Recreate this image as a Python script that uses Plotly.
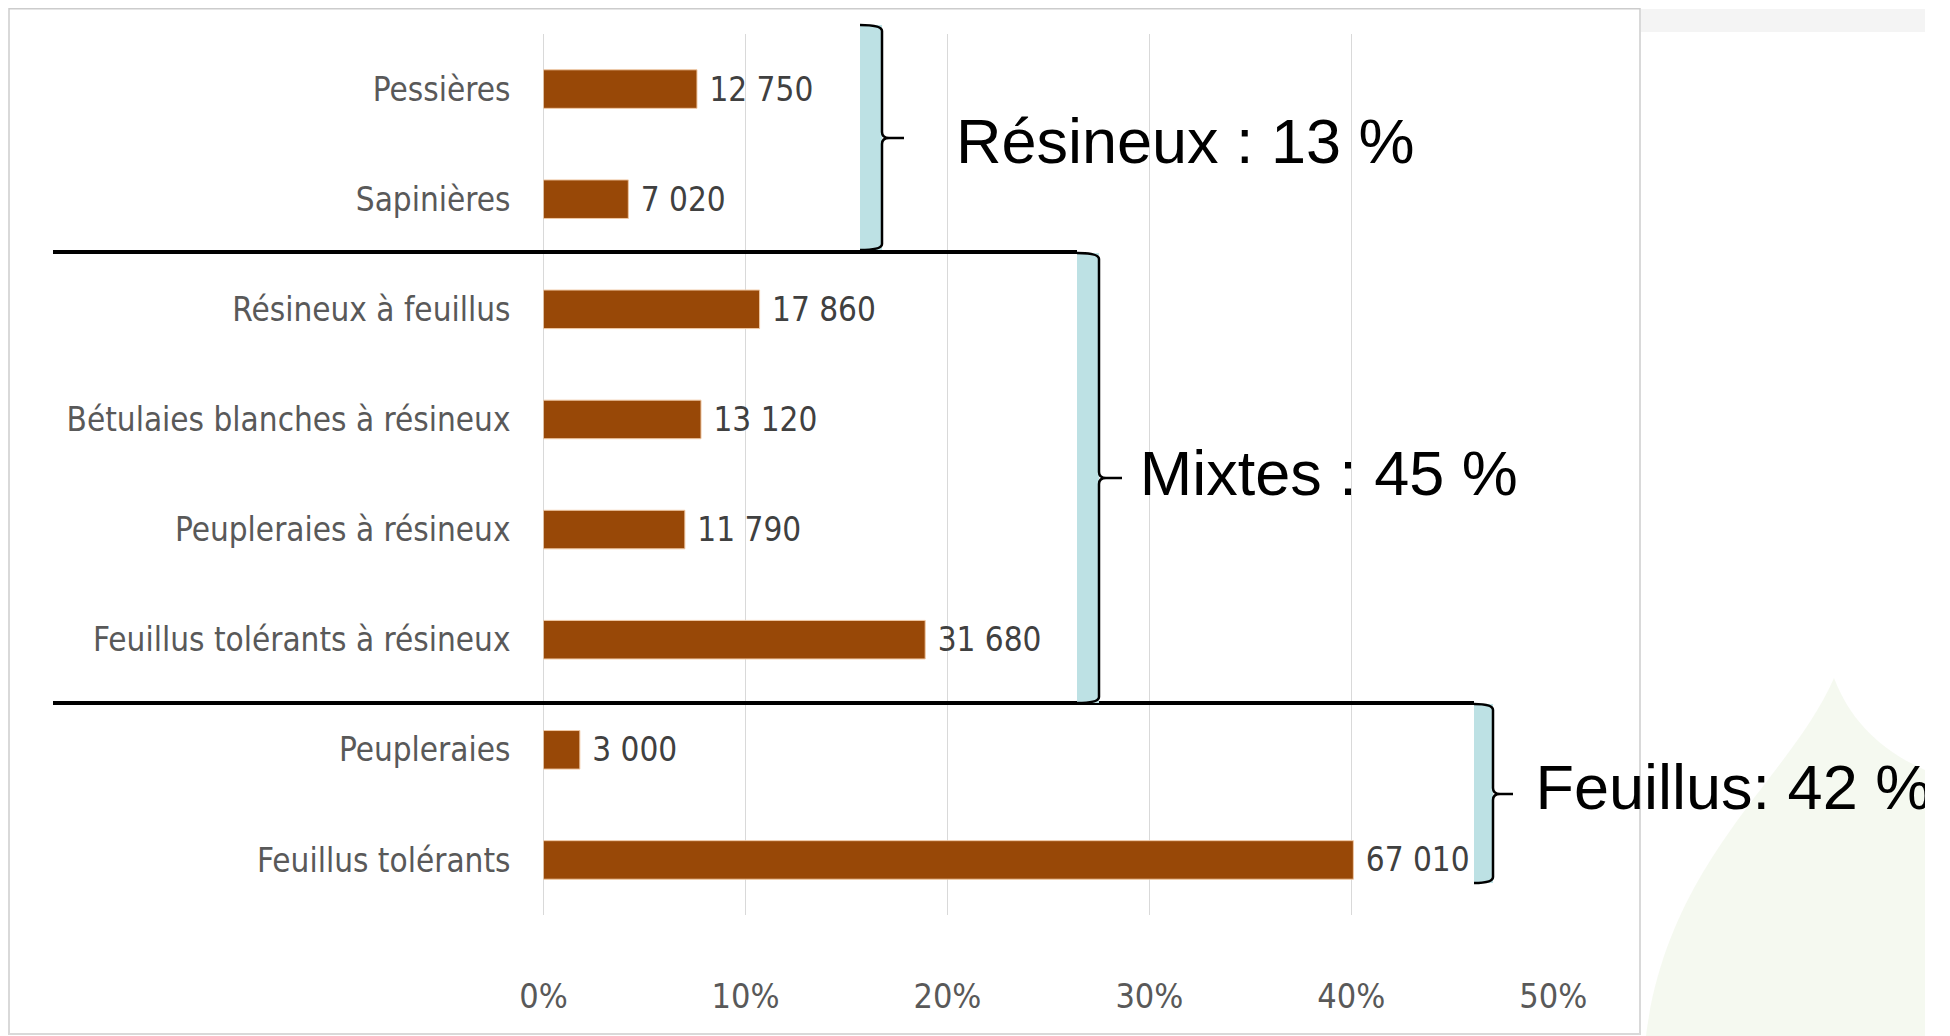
import plotly.graph_objects as go

W, H = 1950, 1036
PAGE_OFFSET = 8  # the page body margin shifts the figure by this many pixels

categories = [
    "Pessières",
    "Sapinières",
    "Résineux à feuillus",
    "Bétulaies blanches à résineux",
    "Peupleraies à résineux",
    "Feuillus tolérants à résineux",
    "Peupleraies",
    "Feuillus tolérants",
]
areas = [12750, 7020, 17860, 13120, 11790, 31680, 3000, 67010]
shares = [7.6, 4.2, 10.7, 7.8, 7.0, 18.9, 1.8, 40.1]
x_ticks = [0, 10, 20, 30, 40, 50]
group_labels = ["Résineux : 13 %", "Mixtes : 45 %", "Feuillus: 42 %"]

NARROW = "Liberation Sans Narrow, DejaVu Sans Condensed, Arial Narrow, sans-serif"
ARIAL = "Liberation Sans, Arial, sans-serif"
BROWN = "#984807"
TEAL = "#bde1e4"
GRID = "#d9d9d9"

# group label anchors (x in %, y in category units) and brace geometry in pixels
GROUP_X = [20.42, 29.52, 49.12]
GROUP_Y = [0.53, 3.54, 6.39]
BRACES = [
    # x_left, x_right, x_tip, y_top, y_mid, y_bottom
    (860, 882, 904, 25, 138, 250),
    (1077, 1099, 1122, 253, 478, 703),
    (1474, 1493, 1513, 704, 794, 883),
]


def px(x):
    return (x - PAGE_OFFSET) / W


def py(y):
    return 1 - (y - PAGE_OFFSET) / H


def fmt(value):
    return f"{value:,}".replace(",", " ")


fig = go.Figure()
fig.add_trace(
    go.Bar(
        x=shares,
        y=list(range(len(categories))),
        orientation="h",
        width=0.35,
        marker={"color": BROWN, "line": {"color": "#f0c8a4", "width": 1}},
        text=["\u00a0" + fmt(a) for a in areas],
        textposition="outside",
        constraintext="none",
        cliponaxis=False,
        textfont={"family": NARROW, "size": 33, "color": "#404040"},
        hoverinfo="skip",
    )
)
fig.add_trace(
    go.Scatter(
        x=GROUP_X,
        y=GROUP_Y,
        mode="text",
        text=group_labels,
        textposition="middle right",
        textfont={"family": ARIAL, "size": 63, "color": "black"},
        cliponaxis=False,
        hoverinfo="skip",
    )
)

shapes = []
# faint slide background on the right
shapes.append({
    "type": "path", "xref": "paper", "yref": "paper", "layer": "below",
    "path": (
        f"M {px(1834)} {py(678)} C {px(1790)} {py(780)} {px(1665)} {py(860)} {px(1645)} {py(1044)} "
        f"L {px(1925)} {py(1044)} L {px(1925)} {py(770)} C {px(1880)} {py(750)} {px(1850)} {py(720)} {px(1834)} {py(678)} Z"
    ),
    "fillcolor": "rgba(215,232,195,0.25)", "line": {"width": 0},
})
shapes.append({
    "type": "rect", "xref": "paper", "yref": "paper", "layer": "below",
    "x0": px(1640), "x1": px(1925), "y0": py(9), "y1": py(32),
    "fillcolor": "#f4f4f4", "line": {"width": 0},
})
# chart frame
shapes.append({
    "type": "rect", "xref": "paper", "yref": "paper", "layer": "below",
    "x0": px(9), "x1": px(1640), "y0": py(8), "y1": py(1034),
    "line": {"color": GRID, "width": 2},
})
shapes.append({
    "type": "line", "xref": "paper", "yref": "paper",
    "x0": px(9), "x1": px(1640), "y0": py(8), "y1": py(8),
    "line": {"color": "#cccccc", "width": 3},
})
# group separators
for y, x_end in [(252, 1077), (703, 1474)]:
    shapes.append({
        "type": "line", "xref": "paper", "yref": "paper",
        "x0": px(53), "x1": px(x_end), "y0": py(y), "y1": py(y),
        "line": {"color": "black", "width": 4},
    })
# braces with teal fill
for x0, x1, xt, yt, ym, yb in BRACES:
    r = 6
    shapes.append({
        "type": "rect", "xref": "paper", "yref": "paper",
        "x0": px(x0), "x1": px(x1), "y0": py(yt), "y1": py(yb),
        "fillcolor": TEAL, "line": {"width": 0},
    })
    path = (
        f"M {px(x0)} {py(yt)} Q {px(x1)} {py(yt)} {px(x1)} {py(yt + r)} "
        f"L {px(x1)} {py(ym - r)} Q {px(x1)} {py(ym)} {px(x1 + 7)} {py(ym)} "
        f"L {px(xt)} {py(ym)} M {px(x1 + 7)} {py(ym)} Q {px(x1)} {py(ym)} {px(x1)} {py(ym + r)} "
        f"L {px(x1)} {py(yb - r)} Q {px(x1)} {py(yb)} {px(x0)} {py(yb)}"
    )
    shapes.append({
        "type": "path", "xref": "paper", "yref": "paper", "path": path,
        "line": {"color": "black", "width": 2.5},
    })
# clip the right edge of the slide
shapes.append({
    "type": "rect", "xref": "paper", "yref": "paper", "layer": "above",
    "x0": px(1925), "x1": 1, "y0": 0, "y1": 1,
    "fillcolor": "white", "line": {"width": 0},
})

fig.update_xaxes(
    range=[0, 50],
    domain=[px(543.5), px(1553.3)],
    automargin=False,
    tickvals=x_ticks,
    ticktext=[f"{t}%" for t in x_ticks],
    showgrid=True,
    gridcolor=GRID,
    gridwidth=1,
    zeroline=True,
    zerolinecolor=GRID,
    zerolinewidth=1,
    showline=False,
    ticks="",
    ticklabelstandoff=58,
    tickfont={"family": NARROW, "size": 34, "color": "#595959"},
    fixedrange=True,
)
fig.update_yaxes(
    range=[len(categories) - 0.5, -0.5],
    domain=[py(915), py(34)],
    automargin=False,
    tickvals=list(range(len(categories))),
    ticktext=categories,
    showgrid=False,
    zeroline=False,
    showline=False,
    ticks="",
    ticklabelstandoff=32,
    tickfont={"family": NARROW, "size": 33, "color": "#595959"},
    fixedrange=True,
)
fig.update_layout(
    width=W,
    height=H,
    margin={"l": 0, "r": 0, "t": 0, "b": 0},
    paper_bgcolor="white",
    plot_bgcolor="rgba(0,0,0,0)",
    showlegend=False,
    shapes=shapes,
)
fig.write_html("out.html")
